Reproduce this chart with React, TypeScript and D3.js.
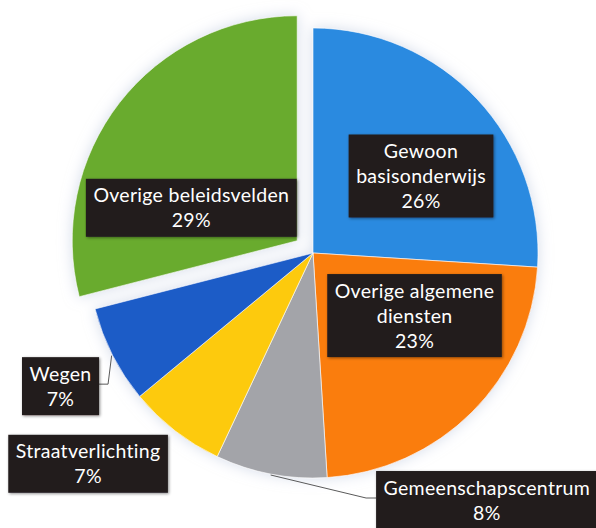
import React, { useEffect, useRef } from "react";
import * as d3 from "d3";

// share of budget per policy field, clockwise from 12 o'clock
const categories = [
  "Gewoon basisonderwijs",
  "Overige algemene diensten",
  "Gemeenschapscentrum",
  "Straatverlichting",
  "Wegen",
  "Overige beleidsvelden",
];
const shares = [26, 23, 8, 7, 7, 29];
const labelLines = [
  ["Gewoon", "basisonderwijs"],
  ["Overige algemene", "diensten"],
  ["Gemeenschapscentrum"],
  ["Straatverlichting"],
  ["Wegen"],
  ["Overige beleidsvelden"],
];
const sliceColors = ["#2b8ae0", "#fa7d10", "#a3a4a9", "#fdca0b", "#1d5bc7", "#69ab2f"];

const App = () => {
  const chartRef = useRef(null);

  useEffect(() => {
    const width = 596;
    const height = 528;
    const cx = 313;
    const cy = 253;
    const radius = 225;
    const explodeIdx = 5;
    const explodeBy = 20;

    const root = d3.select(chartRef.current);
    root.selectAll("*").remove();

    const svg = root
      .append("svg")
      .attr("width", width)
      .attr("height", height)
      .style("position", "absolute")
      .style("left", 0)
      .style("top", 0)
      .style("background", "#fff");

    const defs = svg.append("defs");
    const glow = defs.append("filter").attr("id", "glow").attr("x", "-20%").attr("y", "-20%").attr("width", "140%").attr("height", "140%");
    glow.append("feGaussianBlur").attr("in", "SourceAlpha").attr("stdDeviation", 7).attr("result", "blur");
    glow.append("feFlood").attr("flood-color", "#b9c4dc").attr("flood-opacity", 0.6);
    glow.append("feComposite").attr("in2", "blur").attr("operator", "in").attr("result", "shadow");
    const gm = glow.append("feMerge");
    gm.append("feMergeNode").attr("in", "shadow");
    gm.append("feMergeNode").attr("in", "SourceGraphic");

    const boxShadow = defs.append("filter").attr("id", "boxShadow").attr("x", "-10%").attr("y", "-20%").attr("width", "120%").attr("height", "140%");
    boxShadow.append("feDropShadow").attr("dx", 1).attr("dy", 1).attr("stdDeviation", 1.5).attr("flood-color", "#000").attr("flood-opacity", 0.45);

    const pie = d3.pie().sort(null).value((d) => d);
    const arcs = pie(shares);
    const arc = d3.arc().innerRadius(0).outerRadius(radius);

    const offsetOf = (i) => {
      if (i !== explodeIdx) return [0, 0];
      const mid = (arcs[i].startAngle + arcs[i].endAngle) / 2;
      return [explodeBy * Math.sin(mid), -explodeBy * Math.cos(mid)];
    };

    const g = svg.append("g").attr("transform", `translate(${cx},${cy})`);

    g.append("g")
      .attr("filter", "url(#glow)")
      .selectAll("path")
      .data(arcs)
      .enter()
      .append("path")
      .attr("d", arc)
      .attr("transform", (d, i) => `translate(${offsetOf(i)})`)
      .style("fill", (d, i) => sliceColors[i])
      .style("stroke", "#fff")
      .style("stroke-width", 0.6);

    // label anchors: centroid for inside labels, rim point for outside ones, plus a nudge
    const outside = [false, false, true, true, true, false];
    const nudges = [
      [26, 0],
      [22, -17],
      [216, 26],
      [-87, 33],
      [-52, 31],
      [-17, 36],
    ];
    const rimPoint = (d, rr) => {
      const mid = (d.startAngle + d.endAngle) / 2;
      return [rr * Math.sin(mid), -rr * Math.cos(mid)];
    };

    const lineH = 25;
    const labels = g
      .append("g")
      .style("font-family", "Lato, 'Open Sans', sans-serif")
      .style("font-size", "19.5px")
      .style("letter-spacing", "0.3px");

    arcs.forEach((d, i) => {
      const [ox, oy] = offsetOf(i);
      const base = outside[i] ? rimPoint(d, radius) : arc.centroid(d);
      const lx = base[0] + ox + nudges[i][0];
      const ly = base[1] + oy + nudges[i][1];
      const lines = [...labelLines[i], `${shares[i]}%`];

      const lab = labels.append("g").attr("transform", `translate(${lx},${ly})`);
      const rect = lab.append("rect").attr("fill", "#241e1f").attr("filter", "url(#boxShadow)");
      const texts = lab
        .selectAll("text")
        .data(lines)
        .enter()
        .append("text")
        .attr("text-anchor", "middle")
        .attr("fill", "#fff")
        .attr("y", (t, k) => (k - (lines.length - 1) / 2) * lineH)
        .attr("dy", "0.36em")
        .text((t) => t);

      let maxW = 0;
      texts.each(function () {
        maxW = Math.max(maxW, this.getComputedTextLength());
      });
      const bw = maxW + 15;
      const bh = lines.length * lineH + 8;
      rect.attr("x", -bw / 2).attr("y", -bh / 2).attr("width", bw).attr("height", bh);

      // leader lines for the two labels that sit away from their slice
      if (i === 2 || i === 4) {
        const start = rimPoint(d, radius + 1);
        const edgeX = i === 2 ? lx - bw / 2 : lx + bw / 2;
        const elbowX = i === 2 ? edgeX - 10 : edgeX + 9;
        const yLine = ly - 2;
        g.insert("path", ":scope > g:last-child")
          .attr("d", d3.line()([start, [elbowX, yLine], [edgeX, yLine]]))
          .attr("fill", "none")
          .attr("stroke", "#5a5a5a")
          .attr("stroke-width", 1);
      }
    });
  }, []);

  return <div id="chart" ref={chartRef}></div>;
};

export default App;
